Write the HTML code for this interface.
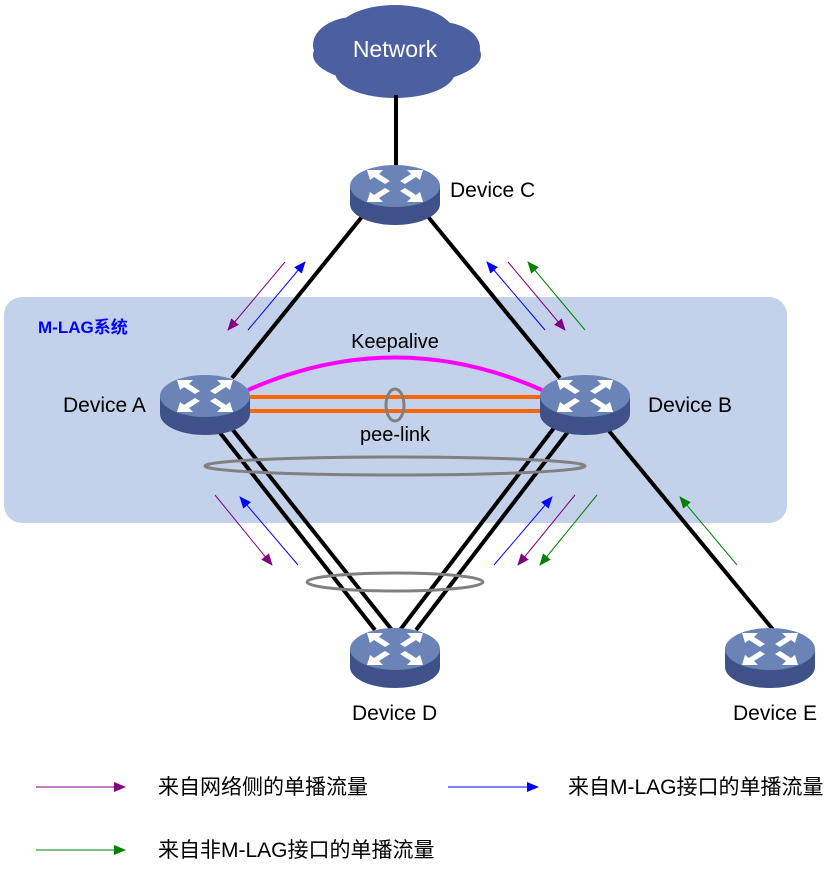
<!DOCTYPE html>
<html><head><meta charset="utf-8"><style>
body{margin:0;background:#fff}
text{font-family:"Liberation Sans","Noto Sans CJK SC",sans-serif}
</style></head><body>
<svg width="832" height="866" viewBox="0 0 832 866" xmlns="http://www.w3.org/2000/svg">
<defs>
<marker id="mp" markerWidth="12" markerHeight="10" refX="11" refY="5" orient="auto" markerUnits="userSpaceOnUse"><path d="M0,0L12,5L0,10Z" fill="#800080"/></marker>
<marker id="mb" markerWidth="12" markerHeight="10" refX="11" refY="5" orient="auto" markerUnits="userSpaceOnUse"><path d="M0,0L12,5L0,10Z" fill="#0000ff"/></marker>
<marker id="mg" markerWidth="12" markerHeight="10" refX="11" refY="5" orient="auto" markerUnits="userSpaceOnUse"><path d="M0,0L12,5L0,10Z" fill="#008000"/></marker>
<g id="sw">
<path d="M-45,-8 L-45,10 A45,21 0 0 0 45,10 L45,-8 Z" fill="#3f5189"/>
<ellipse cx="0" cy="-8" rx="45" ry="21" fill="#6b84b8"/>
<g fill="#fff">
<path d="M-28,-24 L-12,-24 L-16,-20 L-5,-13 L-10,-10 L-21,-17 L-25,-14 Z"/>
<path d="M28,-24 L12,-24 L16,-20 L5,-13 L10,-10 L21,-17 L25,-14 Z"/>
<path d="M-28,8 L-12,8 L-16,4 L-5,-3 L-10,-6 L-21,1 L-25,-2 Z"/>
<path d="M28,8 L12,8 L16,4 L5,-3 L10,-6 L21,1 L25,-2 Z"/>
</g>
</g>
</defs>
<rect x="4" y="297" width="783" height="226" rx="18" fill="#c3d1ea"/>
<text x="38" y="333" font-size="17" font-weight="bold" fill="#0000ff">M-LAG系统</text>
<g fill="#4b5fa1">
<ellipse cx="397" cy="55" rx="84" ry="30"/>
<ellipse cx="355" cy="45" rx="42" ry="28"/>
<ellipse cx="395" cy="35" rx="60" ry="30"/>
<ellipse cx="440" cy="48" rx="40" ry="26"/>
<ellipse cx="395" cy="72" rx="60" ry="26"/>
</g>
<text x="395" y="57" font-size="23" fill="#fff" text-anchor="middle">Network</text>
<g stroke="#000" stroke-width="4">
<line x1="396" y1="95" x2="396" y2="170"/>
<line x1="365" y1="213" x2="232" y2="378"/>
<line x1="425" y1="213" x2="560" y2="378"/>
<line x1="600" y1="420" x2="775" y2="632"/>
<line x1="210" y1="420" x2="375" y2="630"/>
<line x1="225" y1="420" x2="392" y2="630"/>
<line x1="560" y1="420" x2="400" y2="630"/>
<line x1="577" y1="420" x2="416" y2="630"/>
</g>
<path d="M248,390 Q395,325 542,390" stroke="#ff00ff" stroke-width="4" fill="none"/>
<line x1="248" y1="397" x2="542" y2="397" stroke="#ff6600" stroke-width="4"/>
<line x1="248" y1="411" x2="542" y2="411" stroke="#ff6600" stroke-width="4"/>
<ellipse cx="395" cy="405" rx="9" ry="16" fill="none" stroke="#808080" stroke-width="3"/>
<ellipse cx="395" cy="466" rx="190" ry="9" fill="none" stroke="#808080" stroke-width="3"/>
<ellipse cx="395" cy="582" rx="88" ry="9" fill="none" stroke="#808080" stroke-width="3"/>
<text x="395" y="348" font-size="20" text-anchor="middle">Keepalive</text>
<text x="395" y="441" font-size="20" text-anchor="middle">pee-link</text>
<use href="#sw" x="395" y="194"/>
<use href="#sw" x="205" y="404"/>
<use href="#sw" x="585" y="404"/>
<use href="#sw" x="395" y="657"/>
<use href="#sw" x="770" y="657"/>
<g font-size="21">
<text x="450" y="197">Device C</text>
<text x="63" y="412">Device A</text>
<text x="648" y="412">Device B</text>
<text x="352" y="720">Device D</text>
<text x="733" y="720">Device E</text>
</g>
<g stroke-width="1">
<line x1="285" y1="262" x2="228" y2="330" stroke="#800080" marker-end="url(#mp)"/>
<line x1="248" y1="330" x2="305" y2="262" stroke="#0000ff" marker-end="url(#mb)"/>
<line x1="545" y1="330" x2="487" y2="262" stroke="#0000ff" marker-end="url(#mb)"/>
<line x1="508" y1="262" x2="565" y2="330" stroke="#800080" marker-end="url(#mp)"/>
<line x1="585" y1="330" x2="528" y2="262" stroke="#008000" marker-end="url(#mg)"/>
<line x1="215" y1="495" x2="272" y2="565" stroke="#800080" marker-end="url(#mp)"/>
<line x1="298" y1="565" x2="240" y2="497" stroke="#0000ff" marker-end="url(#mb)"/>
<line x1="494" y1="565" x2="552" y2="497" stroke="#0000ff" marker-end="url(#mb)"/>
<line x1="575" y1="495" x2="518" y2="565" stroke="#800080" marker-end="url(#mp)"/>
<line x1="597" y1="495" x2="540" y2="565" stroke="#008000" marker-end="url(#mg)"/>
<line x1="737" y1="565" x2="680" y2="497" stroke="#008000" marker-end="url(#mg)"/>
<line x1="36" y1="787" x2="125" y2="787" stroke="#800080" marker-end="url(#mp)"/>
<line x1="448" y1="787" x2="538" y2="787" stroke="#0000ff" marker-end="url(#mb)"/>
<line x1="36" y1="850" x2="125" y2="850" stroke="#008000" marker-end="url(#mg)"/>
</g>
<g font-size="21">
<text x="158" y="794">来自网络侧的单播流量</text>
<text x="568" y="794">来自M-LAG接口的单播流量</text>
<text x="158" y="857">来自非M-LAG接口的单播流量</text>
</g>
</svg>
</body></html>
